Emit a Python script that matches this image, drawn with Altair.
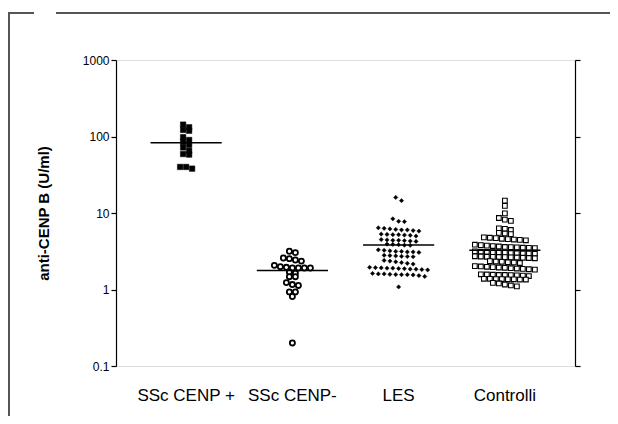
import math
import altair as alt
import pandas as pd

# ---------------- data ----------------
categories = ["SSc CENP +", "SSc CENP-", "LES", "Controlli"]

ssc_cenp_pos = [143, 132, 122, 119, 98, 90, 85, 78, 72, 65, 59, 58, 40, 40, 38]

ssc_cenp_neg = [3.16, 3.03, 2.58, 2.53, 2.43, 2.35, 2.07, 1.99, 1.95, 1.91, 1.91,
                1.91, 1.91, 1.69, 1.63, 1.47, 1.47, 1.23, 1.16, 1.13, 0.93, 0.93,
                0.81, 0.20]

les = [16.0, 14.5,
       8.4, 7.8, 7.7,
       6.4, 6.3, 6.2, 6.1, 6.0, 6.0, 5.9, 5.8,
       5.3, 5.25, 5.2, 5.2, 5.15, 5.1, 5.0,
       4.5, 4.45, 4.4, 4.4, 4.35, 4.3, 4.25,
       3.92, 3.88, 3.85, 3.8, 3.78,
       3.3, 3.25, 3.2, 3.15, 3.15, 3.1, 3.1, 3.05,
       2.8, 2.78, 2.75, 2.72, 2.7, 2.68,
       2.4, 2.35, 2.3, 2.25, 2.2, 2.15,
       1.95, 1.93, 1.92, 1.9, 1.9, 1.88, 1.87, 1.85, 1.84, 1.82, 1.8,
       1.62, 1.6, 1.6, 1.58, 1.57, 1.56, 1.56, 1.55, 1.52, 1.48,
       1.08]

controlli = [14.5, 12.4, 9.9,
             8.6, 8.2, 7.9,
             6.3, 6.2, 6.0,
             5.5, 5.4, 5.3,
             4.8, 4.75, 4.7, 4.6, 4.55, 4.5, 4.45, 4.4,
             3.85, 3.8, 3.75, 3.7, 3.65, 3.6, 3.58, 3.55, 3.52, 3.5, 3.48,
             3.15, 3.12, 3.1, 3.08, 3.05, 3.02, 3.0, 2.98, 2.96, 2.95, 2.94,
             2.72, 2.7, 2.68, 2.67, 2.66, 2.65, 2.63, 2.62, 2.6, 2.58, 2.56,
             2.35, 2.32, 2.3, 2.27, 2.25, 2.22,
             2.02, 2.0, 1.98, 1.96, 1.94, 1.92, 1.9, 1.88, 1.86, 1.84, 1.82,
             1.58, 1.57, 1.56, 1.55, 1.55, 1.54, 1.53, 1.52, 1.5,
             1.38, 1.38, 1.37, 1.37, 1.36, 1.36, 1.35, 1.35,
             1.22, 1.2, 1.16, 1.13, 1.1]

y_ticks = [0.1, 1, 10, 100, 1000]
y_title = "anti-CENP B (U/ml)"

# ---------------- layout ----------------
PLOT_W, PLOT_H = 459, 306
X_DOMAIN = [-0.66, 3.66]
Y_DOMAIN = [0.1, 1000]
PX_PER_UNIT = PLOT_W / (X_DOMAIN[1] - X_DOMAIN[0])
PX_PER_DECADE = PLOT_H / (math.log10(Y_DOMAIN[1]) - math.log10(Y_DOMAIN[0]))


def row_swarm(values, step_px, row_px):
    """Group points into horizontal rows and spread each row symmetrically."""
    ys = [-math.log10(v) * PX_PER_DECADE for v in values]
    order = sorted(range(len(values)), key=lambda i: ys[i])
    offs = [0.0] * len(values)
    rows, cur, start = [], [], None
    for i in order:
        if start is None or ys[i] - start >= row_px:
            if cur:
                rows.append(cur)
            cur, start = [i], ys[i]
        else:
            cur.append(i)
    if cur:
        rows.append(cur)
    for r in rows:
        n = len(r)
        for k, i in enumerate(r):
            offs[i] = (k - (n - 1) / 2) * step_px / PX_PER_UNIT
    return offs


groups = [ssc_cenp_pos, ssc_cenp_neg, les, controlli]
steps = [6.0, 6.0, 5.8, 6.0]
recs = []
means = []
for gi, vals in enumerate(groups):
    offs = row_swarm(vals, steps[gi], 4.0)
    for v, o in zip(vals, offs):
        recs.append({"group": categories[gi], "idx": gi, "value": v, "xpos": gi + o})
    m = sum(vals) / len(vals)
    means.append({"group": categories[gi], "mean": m,
                  "x1": gi - 0.335, "x2": gi + 0.335})
df = pd.DataFrame(recs)
mdf = pd.DataFrame(means)
cat_df = pd.DataFrame({"group": categories, "idx": list(range(len(categories)))})

xscale = alt.Scale(domain=X_DOMAIN, nice=False, zero=False)
yscale = alt.Scale(type="log", domain=Y_DOMAIN, nice=False)

y_axis_left = alt.Axis(values=y_ticks, labelExpr="'' + datum.value", grid=False,
                       tickSize=5, tickColor="black", tickWidth=1.2,
                       domainColor="black", domainWidth=1.2, labelPadding=2,
                       labelFontSize=12, labelFont="Liberation Sans",
                       labelColor="black", title=y_title, titleFontSize=15,
                       titleFont="Liberation Sans", titleFontWeight="bold",
                       titleColor="black", titlePadding=31)
y_axis_right = alt.Axis(orient="right", values=y_ticks, labels=False, grid=False,
                        tickSize=5, tickColor="black", tickWidth=1.2,
                        domainColor="black", domainWidth=1.2, title=None)

styles = [
    dict(shape="square", size=30, fill="black", stroke="black", strokeWidth=0.5),
    dict(shape="circle", size=26, fill="white", stroke="black", strokeWidth=1.8),
    dict(shape="diamond", size=18, fill="black", stroke="black", strokeWidth=0.5),
    dict(shape="square", size=22, fill="white", stroke="black", strokeWidth=1.1),
]

layers = []
for gi, st in enumerate(styles):
    layer = alt.Chart(df).transform_filter(
        alt.datum.idx == gi
    ).mark_point(filled=True, opacity=1, **st).encode(
        x=alt.X("xpos:Q", scale=xscale, axis=None),
        y=alt.Y("value:Q", scale=yscale, axis=y_axis_left if gi == 0 else None),
    )
    layers.append(layer)

mean_rules = alt.Chart(mdf).mark_rule(color="black", strokeWidth=1.5).encode(
    x=alt.X("x1:Q", scale=xscale, axis=None),
    x2="x2:Q",
    y=alt.Y("mean:Q", scale=yscale, axis=y_axis_right),
)
layers.append(mean_rules)

# category labels under the plot
cat_labels = alt.Chart(cat_df).mark_text(
    font="Liberation Sans", fontSize=17, color="black", baseline="alphabetic",
    align="center"
).encode(
    x=alt.X("idx:Q", scale=xscale, axis=None),
    y=alt.value(PLOT_H + 35),
    text="group:N",
)
layers.append(cat_labels)

# decorative page frame (partially visible box around the figure)
one = pd.DataFrame({"k": [0]})
frame_color = "#555555"
frame_left = alt.Chart(one).mark_rule(color=frame_color, strokeWidth=2).encode(
    x=alt.value(-107), y=alt.value(-47), y2=alt.value(360))
frame_top1 = alt.Chart(one).mark_rule(color=frame_color, strokeWidth=2).encode(
    x=alt.value(-108), x2=alt.value(-82), y=alt.value(-47))
frame_top2 = alt.Chart(one).mark_rule(color=frame_color, strokeWidth=2).encode(
    x=alt.value(-60), x2=alt.value(500), y=alt.value(-47))
layers += [frame_left, frame_top1, frame_top2]

chart = alt.layer(*layers).properties(
    width=PLOT_W, height=PLOT_H,
    autosize=alt.AutoSizeParams(type="none"),
    padding={"left": 108, "top": 52, "right": 35, "bottom": 50},
).resolve_axis(y="independent").configure_view(
    stroke="black", strokeWidth=1.2
).configure(background="white")

chart.save("out.html", embed_options={"renderer": "svg", "actions": False})
